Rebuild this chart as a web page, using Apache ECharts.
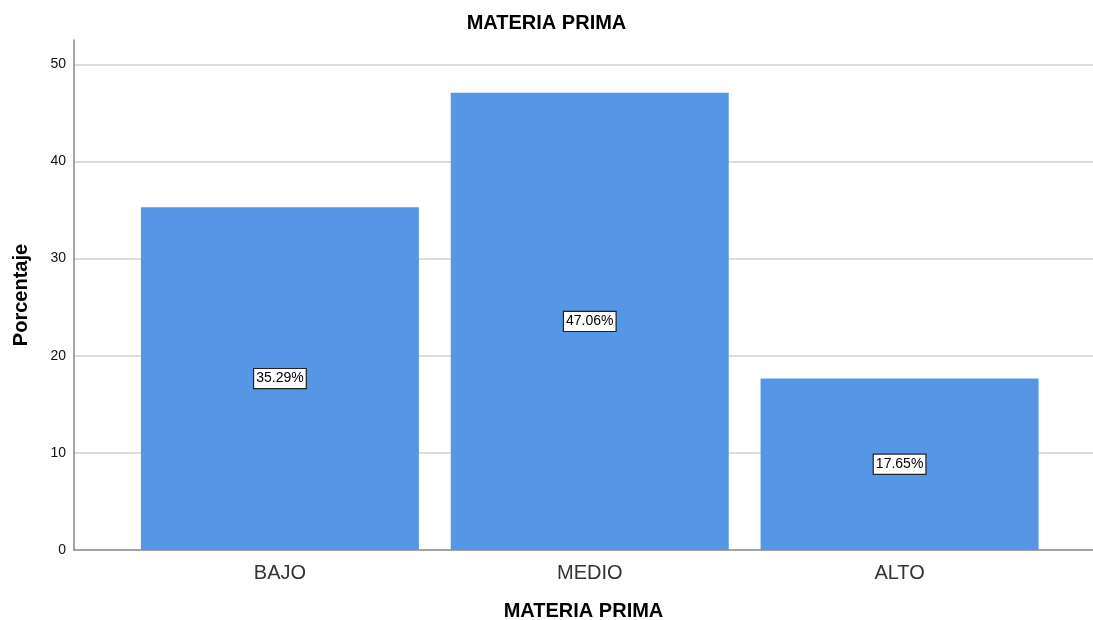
<!DOCTYPE html>
<html><head><meta charset="utf-8">
<script src="https://cdn.jsdelivr.net/npm/echarts@6/dist/echarts.min.js"></script>
<style>html,body{margin:0;padding:0;background:#fff}#c{width:1093px;height:620px}</style>
</head><body><div id="c"></div>
<script>
var categories = ['BAJO', 'MEDIO', 'ALTO'];
var percentages = [35.29, 47.06, 17.65];
var yTicks = [0, 10, 20, 30, 40, 50];

var chart = echarts.init(document.getElementById('c'), null, {renderer: 'canvas'});
var font = 'Arial, "Liberation Sans", sans-serif';
chart.setOption({
  animation: false,
  backgroundColor: '#fff',
  title: {
    text: 'MATERIA PRIMA', left: 'center', top: 8,
    textStyle: {fontFamily: font, fontSize: 20, fontWeight: 'bold', color: '#000'}
  },
  grid: [
    {left: 74, right: 0, top: 40, bottom: 70, outerBoundsMode: 'none', containLabel: false},
    {left: 125, right: 38.5, top: 40, bottom: 70, outerBoundsMode: 'none', containLabel: false}
  ],
  xAxis: [
    {gridIndex: 0, type: 'value', min: 0, max: 1,
     axisLine: {show: true, lineStyle: {color: '#888', width: 1.5}},
     axisTick: {show: false}, axisLabel: {show: false}, splitLine: {show: false},
     name: 'MATERIA PRIMA', nameLocation: 'middle', nameGap: 51,
     nameTextStyle: {fontFamily: font, fontSize: 20, fontWeight: 'bold', color: '#000'}},
    {gridIndex: 1, type: 'category', data: categories,
     axisLine: {show: false}, axisTick: {show: false},
     axisLabel: {fontFamily: font, fontSize: 20, color: '#333', margin: 13}}
  ],
  yAxis: [
    {gridIndex: 0, type: 'value', min: 0, max: 52.5, interval: 10,
     axisLine: {show: true, lineStyle: {color: '#888', width: 1.5}},
     axisTick: {show: false},
     axisLabel: {fontFamily: font, fontSize: 14, color: '#111', margin: 8,
       customValues: yTicks},
     splitLine: {show: true, showMaxLine: false, showMinLine: false,
       lineStyle: {color: '#d0d0d0', width: 1.5}},
     name: 'Porcentaje', nameLocation: 'middle', nameGap: 43, nameRotate: 90,
     nameTextStyle: {fontFamily: font, fontSize: 20, fontWeight: 'bold', color: '#000'}},
    {gridIndex: 1, type: 'value', min: 0, max: 52.5, show: false, splitLine: {show: false}}
  ],
  series: [{
    type: 'bar', xAxisIndex: 1, yAxisIndex: 1,
    data: percentages, barWidth: 278,
    itemStyle: {color: '#5596e5'},
    label: {
      show: true, position: 'inside',
      formatter: function (p) { return p.value.toFixed(2) + '%'; },
      fontFamily: font, fontSize: 14, color: '#000',
      backgroundColor: '#fff', borderColor: '#222', borderWidth: 1.2,
      padding: [3, 2, 2, 2]
    }
  }]
});
</script></body></html>
